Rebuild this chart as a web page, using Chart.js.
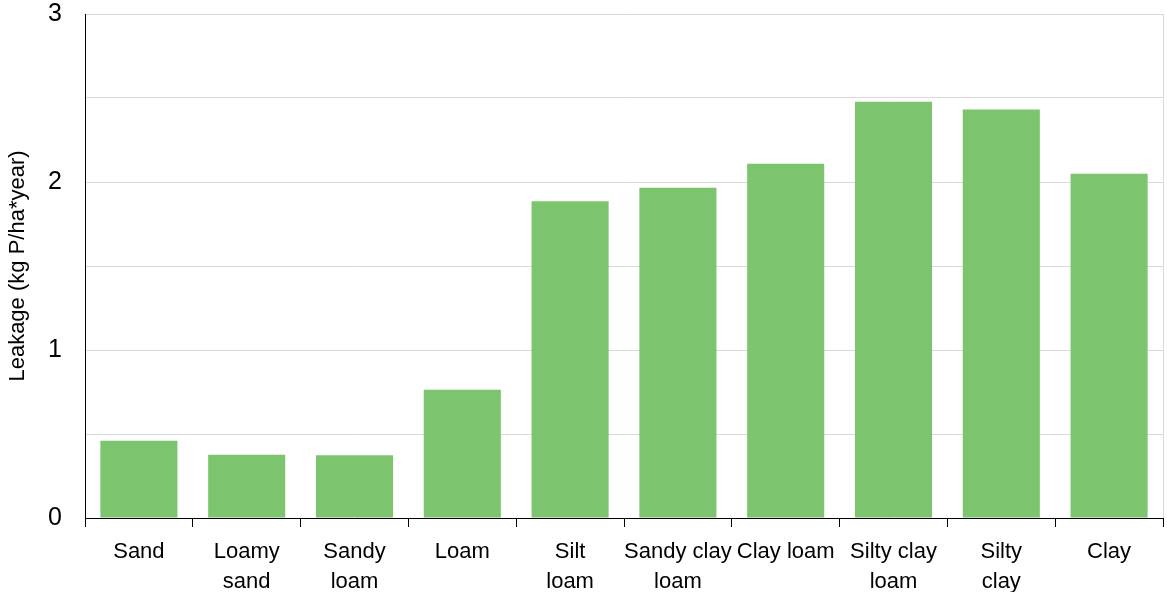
<!DOCTYPE html>
<html>
<head>
<meta charset="utf-8">
<script src="https://cdn.jsdelivr.net/npm/chart.js@4"></script>
<style>
html,body{margin:0;padding:0;background:#fff;}
#wrap{width:1167px;height:592px;}
</style>
</head>
<body>
<div id="wrap"><canvas id="c" width="1167" height="592"></canvas></div>
<script>
const categories = [
  ["Sand"], ["Loamy", "sand"], ["Sandy", "loam"], ["Loam"], ["Silt", "loam"],
  ["Sandy clay", "loam"], ["Clay loam"], ["Silty clay", "loam"], ["Silty", "clay"], ["Clay"]
];
const leakage = [0.46, 0.377, 0.373, 0.764, 1.885, 1.966, 2.109, 2.478, 2.432, 2.049];
const yTickLabels = ["0", "1", "2", "3"];
const yTitle = "Leakage (kg P/ha*year)";

const FONT = "'Liberation Sans', Arial, sans-serif";

const rightBorder = {
  id: 'rightBorder',
  afterDraw(chart) {
    const {ctx, chartArea} = chart;
    ctx.save();
    ctx.strokeStyle = '#d9d9d9';
    ctx.lineWidth = 1;
    ctx.beginPath();
    ctx.moveTo(Math.round(chartArea.right) + 0.5, chartArea.top);
    ctx.lineTo(Math.round(chartArea.right) + 0.5, chartArea.bottom);
    ctx.stroke();
    ctx.restore();
  }
};

new Chart(document.getElementById('c'), {
  type: 'bar',
  data: {
    labels: categories,
    datasets: [{
      data: leakage,
      backgroundColor: '#7cc46d',
      borderWidth: 0,
      barPercentage: 0.715,
      categoryPercentage: 1.0
    }]
  },
  options: {
    responsive: false,
    animation: false,
    devicePixelRatio: 1,
    layout: { padding: { left: 0, top: 14, right: 4, bottom: 0 } },
    plugins: { legend: { display: false }, tooltip: { enabled: false } },
    scales: {
      x: {
        offset: true,
        grid: { offset: true, drawOnChartArea: false, drawTicks: true, tickLength: 9, color: '#000', lineWidth: 1 },
        border: { display: true, color: '#000', width: 1 },
        ticks: {
          color: '#000',
          font: { family: FONT, size: 22, lineHeight: 1.36 },
          padding: 10,
          maxRotation: 0,
          autoSkip: false
        },
        afterFit(scale) { scale.height = 74; scale.paddingLeft = 0; scale.paddingRight = 0; }
      },
      y: {
        min: 0,
        max: 3,
        ticks: {
          stepSize: 0.5,
          color: '#000',
          font: { family: FONT, size: 25 },
          padding: 23,
          callback(v) {
            const i = yTickLabels.indexOf(String(v));
            return i >= 0 ? yTickLabels[i] : '';
          }
        },
        grid: { color: '#d9d9d9', lineWidth: 1, drawTicks: false },
        border: { display: true, color: '#000', width: 1 },
        title: {
          display: true,
          text: yTitle,
          color: '#000',
          font: { family: FONT, size: 22 },
          padding: { top: 5, bottom: 0 }
        },
        afterFit(scale) { scale.width = 85; scale.paddingTop = 0; scale.paddingBottom = 0; }
      }
    }
  },
  plugins: [rightBorder]
});
</script>
</body>
</html>
